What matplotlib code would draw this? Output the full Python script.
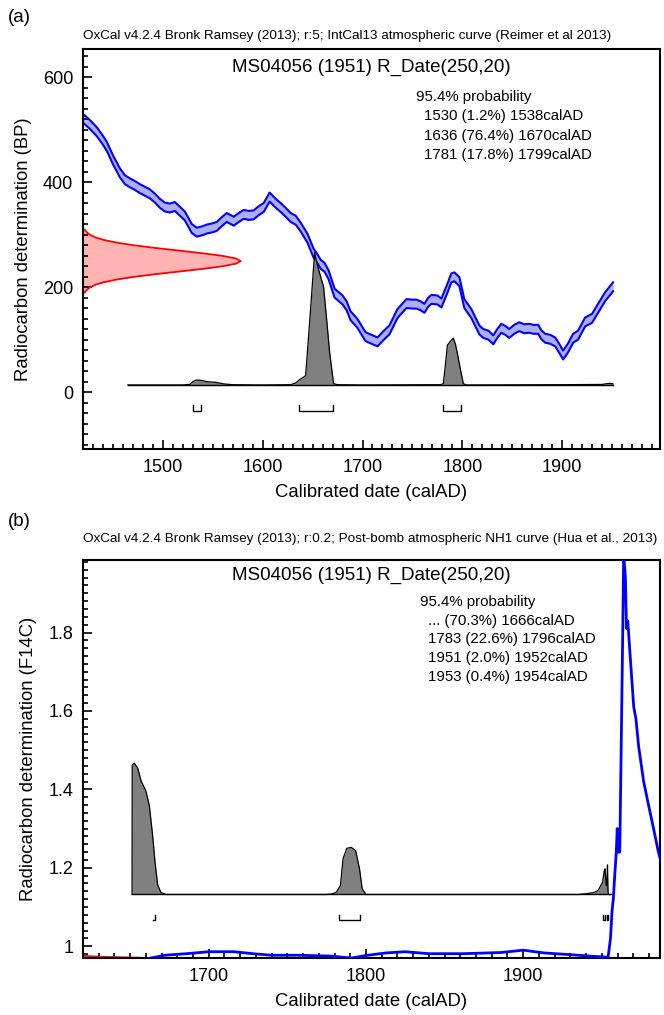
import numpy as np
from matplotlib import pyplot as plt
from matplotlib.ticker import MultipleLocator, FormatStrFormatter

plt.rcParams['font.family'] = ['Liberation Sans', 'DejaVu Sans']

W, H = 664, 1015

# ---- panel (a): IntCal13, radiocarbon age in BP ----
curve_a_year = [1420, 1427, 1434, 1440, 1444, 1450, 1457, 1462, 1467, 1472, 1477, 1482,
                1487, 1492, 1497, 1502, 1507, 1512, 1517, 1522, 1529, 1534, 1540, 1544,
                1549, 1554, 1559, 1564, 1571, 1576, 1581, 1586, 1591, 1596, 1601, 1607,
                1612, 1618, 1623, 1628, 1633, 1638, 1645, 1651, 1655, 1658, 1662, 1666,
                1672, 1680, 1684, 1688, 1695, 1703, 1709, 1715, 1721, 1727, 1735, 1744,
                1750, 1754, 1758, 1762, 1766, 1769, 1775, 1779, 1785, 1789, 1792, 1797,
                1802, 1809, 1817, 1821, 1826, 1831, 1835, 1839, 1843, 1847, 1852, 1857,
                1862, 1867, 1871, 1876, 1879, 1883, 1888, 1893, 1897, 1901, 1906, 1911,
                1916, 1923, 1930, 1935, 1943, 1951]
curve_a_bp = [522, 510, 496, 480, 468, 443, 418, 405, 399, 394, 388, 383,
              378, 370, 360, 353, 351, 354, 345, 336, 312, 305, 308, 311,
              313, 316, 325, 333, 326, 333, 339, 337, 338, 346, 352, 372,
              362, 352, 343, 333, 328, 315, 293, 265, 254, 244, 238, 224,
              189, 176, 165, 146, 131, 106, 101, 96, 108, 119, 150, 169,
              168, 168, 165, 160, 172, 177, 176, 170, 198, 218, 220, 211,
              169, 150, 119, 112, 109, 100, 112, 122, 118, 112, 120, 125,
              121, 122, 120, 120, 110, 103, 101, 96, 84, 71, 85, 103,
              109, 134, 141, 157, 182, 201]
curve_a_err = 8.5

# R_Date(250,20) shown on the y axis
red_bp = [190, 195, 200, 205, 210, 215, 220, 225, 230, 235, 240, 245, 250,
          255, 260, 265, 270, 275, 280, 285, 290, 295, 300, 305, 310]
red_prob = [0.011, 0.023, 0.044, 0.080, 0.135, 0.216, 0.325, 0.458, 0.607, 0.755, 0.882, 0.969, 1.0,
            0.969, 0.882, 0.755, 0.607, 0.458, 0.325, 0.216, 0.135, 0.080, 0.044, 0.023, 0.011]

# calibrated probability (relative)
prob_a_year = [1465, 1520, 1527, 1530, 1534, 1539, 1544, 1553, 1561, 1570, 1600, 1628,
               1633, 1637, 1640, 1643, 1646, 1649, 1652, 1655, 1658, 1661, 1664, 1667,
               1671, 1675, 1700, 1778, 1781, 1783, 1785, 1788, 1791, 1793, 1795, 1798,
               1801, 1804, 1900, 1940, 1945, 1948, 1951]
prob_a = [0, 0, 0.004, 0.025, 0.038, 0.034, 0.025, 0.02, 0.008, 0.002, 0, 0.002,
          0.015, 0.04, 0.055, 0.07, 0.37, 0.68, 1.0, 0.9, 0.82, 0.74, 0.5, 0.25,
          0.01, 0.002, 0, 0.002, 0.01, 0.15, 0.3, 0.33, 0.354, 0.31, 0.24, 0.12,
          0.01, 0, 0.002, 0.004, 0.01, 0.012, 0.008]

ranges_a = [(1530, 1538), (1636, 1670), (1781, 1799)]
text_a = ['1530 (1.2%) 1538calAD', '1636 (76.4%) 1670calAD', '1781 (17.8%) 1799calAD']

# ---- panel (b): post-bomb NH1, F14C ----
curve_b_year = [1660, 1662, 1672, 1686, 1700, 1716, 1728, 1740, 1757, 1777, 1791, 1801,
                1813, 1825, 1840, 1862, 1886, 1900, 1913, 1928, 1942, 1954, 1955.5, 1956.5,
                1957.3, 1958.2, 1959.2, 1959.8, 1960.3, 1961.4, 1962.5, 1963.3, 1963.9, 1965,
                1965.7, 1966.5, 1968.2, 1970.3, 1971.7, 1973.4, 1976.6, 1979.7, 1982.9, 1986,
                1988]
curve_b_f14c = [0.966, 0.969, 0.977, 0.981, 0.986, 0.986, 0.981, 0.977, 0.977, 0.975, 0.970, 0.977,
                0.983, 0.986, 0.981, 0.981, 0.984, 0.990, 0.983, 0.979, 0.975, 0.972, 1.02, 1.09,
                1.12, 1.18, 1.24, 1.30, 1.24, 1.24, 1.56, 1.80, 2.00, 1.94,
                1.81, 1.83, 1.73, 1.61, 1.58, 1.51, 1.42, 1.36, 1.30, 1.24,
                1.21]

prob_b_year = [1651.2, 1651.3, 1652.7, 1654.8, 1657, 1660, 1662.2, 1664.3, 1665.8, 1667.5,
               1669.6, 1672.8, 1775, 1779, 1781.2, 1783.7, 1785.4, 1787.8, 1790.7, 1793.4,
               1795.9, 1797.6, 1800, 1935, 1940, 1945, 1947.6, 1950.5, 1951.5, 1952, 1952.8,
               1953.3, 1953.6, 1953.9, 1954.2, 1956]
prob_b = [0, 0.985, 1.0, 0.96, 0.863, 0.788, 0.675, 0.448, 0.248, 0.072,
          0.015, 0, 0, 0.006, 0.018, 0.066, 0.272, 0.352, 0.358, 0.334,
          0.194, 0.042, 0, 0, 0.006, 0.015, 0.03, 0.093, 0.18, 0.195, 0.066,
          0.12, 0.225, 0.03, 0, 0]

ranges_b = [(None, 1666), (1783, 1796), (1951, 1952), (1953, 1954)]
text_b = ['... (70.3%) 1666calAD', '1783 (22.6%) 1796calAD',
          '1951 (2.0%) 1952calAD', '1953 (0.4%) 1954calAD']

TITLE = 'MS04056 (1951) R_Date(250,20)'
HEAD_A = 'OxCal v4.2.4 Bronk Ramsey (2013); r:5; IntCal13 atmospheric curve (Reimer et al 2013)'
HEAD_B = 'OxCal v4.2.4 Bronk Ramsey (2013); r:0.2; Post-bomb atmospheric NH1 curve (Hua et al., 2013)'


def fx(x):
    return x / W


def fy(y):
    return 1 - y / H


def style_axes(ax, xlim, ylim, ymajor, yminor, ylabel):
    ax.set_xlim(*xlim)
    ax.set_ylim(*ylim)
    ax.xaxis.set_major_locator(MultipleLocator(100))
    ax.xaxis.set_minor_locator(MultipleLocator(10))
    ax.yaxis.set_major_locator(MultipleLocator(ymajor))
    ax.yaxis.set_minor_locator(MultipleLocator(yminor))
    ax.tick_params(which='both', direction='in', top=False, right=False, width=1.2,
                   labelsize=13, pad=7)
    ax.tick_params(which='major', length=6.5)
    ax.tick_params(which='minor', length=3.5)
    for spine in ax.spines.values():
        spine.set_linewidth(1.5)
    ax.set_xlabel('Calibrated date (calAD)', fontsize=13.3, labelpad=6)
    ax.set_ylabel(ylabel, fontsize=13.3, labelpad=8)


def draw_ranges(ax, ranges, top, bottom):
    for start, end in ranges:
        if start is None:
            ax.plot([end - 1.5, end, end], [bottom, bottom, top], color='black', lw=1)
        else:
            ax.plot([start, start, end, end], [top, bottom, bottom, top], color='black', lw=1)


def draw_prob(ax, years, prob, base, height):
    years = np.array(years)
    top = base + height * np.array(prob)
    ax.fill_between(years, base, top, color='#808080', lw=0, zorder=3)
    ax.plot(years, top, color='black', lw=0.9, zorder=3)
    ax.plot([years[0], years[-1]], [base, base], color='black', lw=1, zorder=3)


def draw_text(fig, lines, x, y0, step):
    fig.text(fx(x), fy(y0), '95.4% probability', fontsize=10.8, va='center')
    for i, line in enumerate(lines):
        fig.text(fx(x + 8), fy(y0 + step * (i + 1)), line, fontsize=10.8, va='center')


def main() -> None:
    fig = plt.figure(figsize=(W / 100, H / 100), dpi=100)

    # panel (a)
    ax = fig.add_axes([fx(83), fy(449), fx(660 - 83), (449 - 49) / H])
    style_axes(ax, (1420, 1998), (-108, 654), 200, 20, 'Radiocarbon determination (BP)')
    c = np.array(curve_a_bp)
    ax.fill_between(curve_a_year, c - curve_a_err, c + curve_a_err, color='#aeaef5', lw=0)
    ax.plot(curve_a_year, c - curve_a_err, color='#0000ff', lw=1.5)
    ax.plot(curve_a_year, c + curve_a_err, color='#0000ff', lw=1.5)
    rx = 1420 + 158 * np.array(red_prob)
    ax.fill_betweenx(red_bp, 1420, rx, color='#ffb3b3', lw=0)
    ax.plot(rx, red_bp, color='red', lw=1.3)
    draw_prob(ax, prob_a_year, prob_a, 14, 252)
    draw_ranges(ax, ranges_a, -24, -35)
    ax.text(0.5, 0.953, TITLE, transform=ax.transAxes, ha='center', va='center', fontsize=13.5)

    # panel (b)
    bx = fig.add_axes([fx(83), fy(958), fx(660 - 83), (958 - 560) / H])
    style_axes(bx, (1620, 1987), (0.97, 1.985), 0.2, 0.02, 'Radiocarbon determination (F14C)')
    bx.yaxis.set_major_formatter(FormatStrFormatter('%g'))
    red_f14c = np.exp(-np.array(red_bp) / 8033.0)
    rxb = 1620 + 41 * np.array(red_prob)
    bx.fill_betweenx(red_f14c, 1620, rxb, color='#ffb3b3', lw=0)
    bx.plot(rxb, red_f14c, color='red', lw=1.3)
    draw_prob(bx, prob_b_year, prob_b, 1.132, 0.335)
    bx.plot(curve_b_year, curve_b_f14c, color='#0000ff', lw=2, zorder=4)
    draw_ranges(bx, ranges_b, 1.080, 1.066)
    bx.text(0.5, 0.962, TITLE, transform=bx.transAxes, ha='center', va='center', fontsize=13.5)

    # headers and probability lists
    fig.text(fx(8), fy(18), '(a)', fontsize=13.5, va='center')
    fig.text(fx(83), fy(36), HEAD_A, fontsize=9.7, va='center')
    fig.text(fx(8), fy(521), '(b)', fontsize=13.5, va='center')
    fig.text(fx(83), fy(539), HEAD_B, fontsize=9.7, va='center')
    draw_text(fig, text_a, 416, 97, 19.3)
    draw_text(fig, text_b, 420, 602, 18.7)

    fig.savefig('out.png', dpi=100)


if __name__ == '__main__':
    main()
